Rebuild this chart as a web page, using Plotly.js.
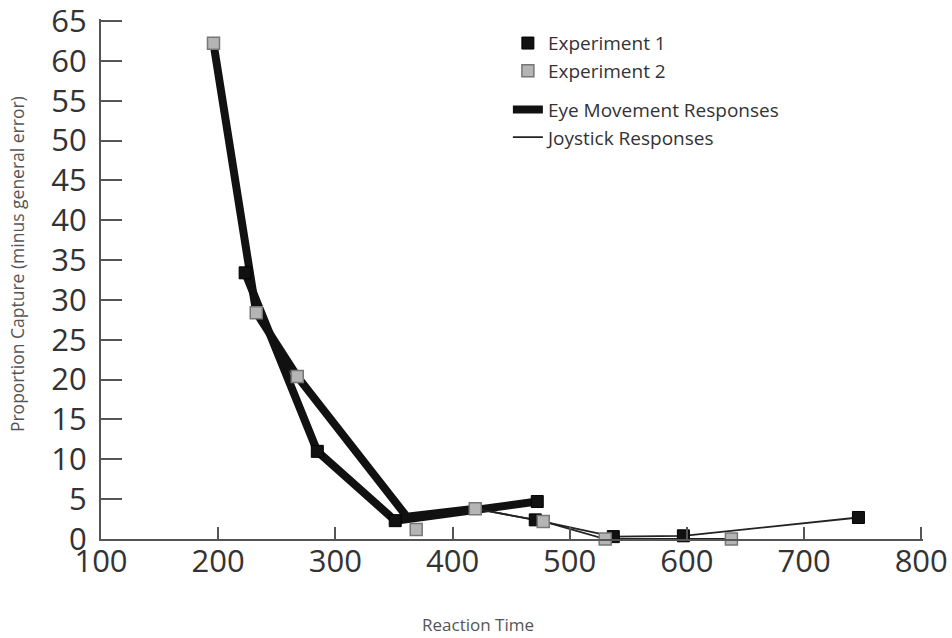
<!DOCTYPE html>
<html>
<head>
<meta charset="utf-8">
<script src="https://cdn.plot.ly/plotly-3.0.1.min.js"></script>
<style>html,body{margin:0;padding:0;background:#fff;}#chart{width:952px;height:638px;}</style>
</head>
<body>
<div id="chart"></div>
<script>
// Eye movement responses (thick lines)
const eyeExp2X = [196, 232.5, 267.5, 361, 419.4];
const eyeExp2Y = [62.2, 28.4, 20.4, 2.8, 3.8];
const eyeExp1X = [223, 284.6, 351.1, 472.3];
const eyeExp1Y = [33.4, 11.0, 2.3, 4.7];
// Joystick responses (thin lines)
const joyExp1X = [419.4, 470.6, 537.2, 597, 746.4];
const joyExp1Y = [3.8, 2.4, 0.3, 0.4, 2.7];
const joyExp2X = [419.4, 477.4, 530.3, 638];
const joyExp2Y = [3.8, 2.2, 0.0, 0.0];
// Markers
const exp1X = [223, 284.6, 351.1, 472.3, 470.6, 537.2, 597, 746.4];
const exp1Y = [33.4, 11.0, 2.3, 4.7, 2.4, 0.3, 0.4, 2.7];
const exp2X = [196, 232.5, 267.5, 369, 419.4, 477.4, 530.3, 638];
const exp2Y = [62.2, 28.4, 20.4, 1.2, 3.8, 2.2, 0.0, 0.0];

const xTicks = [100, 200, 300, 400, 500, 600, 700, 800];
const yTicks = [0, 5, 10, 15, 20, 25, 30, 35, 40, 45, 50, 55, 60, 65];

const FONT = '"Open Sans", "Noto Sans", sans-serif';

const traces = [
  {x: eyeExp2X, y: eyeExp2Y, mode: 'lines', name: 'Eye Movement Responses', legendgroup: 'b', legendrank: 3,
   line: {color: '#111', width: 8}, cliponaxis: false, hoverinfo: 'skip'},
  {x: eyeExp1X, y: eyeExp1Y, mode: 'lines', name: 'Eye Movement Responses', legendgroup: 'b', showlegend: false,
   line: {color: '#111', width: 8}, cliponaxis: false, hoverinfo: 'skip'},
  {x: joyExp1X, y: joyExp1Y, mode: 'lines', name: 'Joystick Responses', legendgroup: 'b', legendrank: 4,
   line: {color: '#222', width: 1.8}, cliponaxis: false, hoverinfo: 'skip'},
  {x: joyExp2X, y: joyExp2Y, mode: 'lines', name: 'Joystick Responses', legendgroup: 'b', showlegend: false,
   line: {color: '#222', width: 1.8}, cliponaxis: false, hoverinfo: 'skip'},
  {x: exp1X, y: exp1Y, mode: 'markers', name: 'Experiment 1', legendgroup: 'a', legendrank: 1,
   marker: {symbol: 'square', size: 12, color: '#111', line: {color: '#000', width: 1}}, cliponaxis: false},
  {x: exp2X, y: exp2Y, mode: 'markers', name: 'Experiment 2', legendgroup: 'a', legendrank: 2,
   marker: {symbol: 'square', size: 12, color: '#b5b5b5', line: {color: '#777', width: 1.5}}, cliponaxis: false}
];

const layout = {
  width: 952, height: 638,
  margin: {l: 101, r: 29, t: 19, b: 99},
  paper_bgcolor: '#fff', plot_bgcolor: '#fff',
  font: {family: FONT, color: '#333'},
  showlegend: true,
  legend: {x: 0.495, y: 0.99, xanchor: 'left', yanchor: 'top', bgcolor: 'rgba(0,0,0,0)',
           font: {family: FONT, size: 19, color: '#333'}, tracegroupgap: 11, traceorder: 'grouped'},
  xaxis: {range: [100, 801.5], tickvals: xTicks, ticktext: xTicks.map(String), showgrid: false, zeroline: false,
          showline: true, linecolor: '#555', linewidth: 2, ticks: 'inside', ticklen: 12, tickwidth: 2, tickcolor: '#555',
          tickfont: {family: FONT, size: 31, color: '#333'}, ticklabelstandoff: -6, ticklabeloverflow: 'allow'},
  yaxis: {range: [0, 65.25], tickvals: yTicks, ticktext: yTicks.map(String), showgrid: false, zeroline: false,
          showline: true, linecolor: '#555', linewidth: 2, ticks: 'inside', ticklen: 21, tickwidth: 2, tickcolor: '#555',
          tickfont: {family: FONT, size: 31, color: '#333'}, ticklabelstandoff: 6, ticklabeloverflow: 'allow'},
  annotations: [
    {text: 'Reaction Time', xref: 'paper', yref: 'paper', x: 0.459, y: -0.165, xanchor: 'center', yanchor: 'middle',
     showarrow: false, font: {family: FONT, size: 17, color: '#555'}},
    {text: 'Proportion Capture (minus general error)', xref: 'paper', yref: 'paper', x: -0.102, y: 0.529,
     xanchor: 'center', yanchor: 'middle', textangle: -90, showarrow: false, font: {family: FONT, size: 17.5, color: '#555'}}
  ]
};

Plotly.newPlot('chart', traces, layout, {displayModeBar: false, staticPlot: true});
</script>
</body>
</html>
